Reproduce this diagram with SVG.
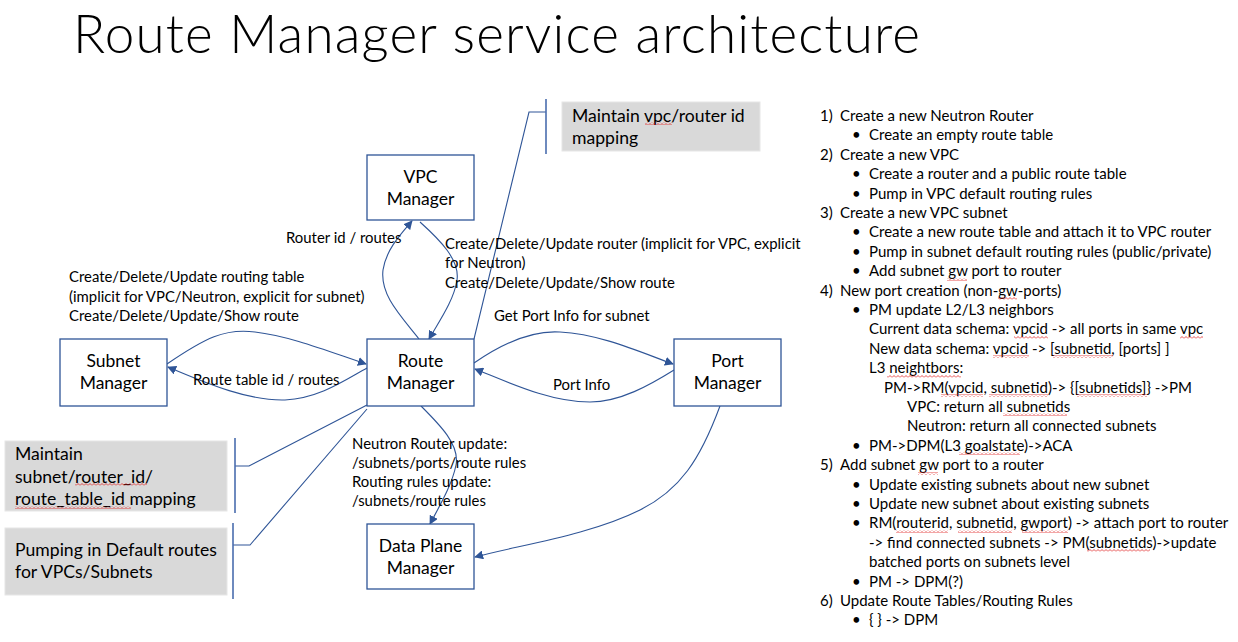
<svg xmlns="http://www.w3.org/2000/svg" width="1238" height="642" viewBox="0 0 1238 642">
<defs>
<marker id="arr" viewBox="0 0 10 10" refX="9" refY="5" markerWidth="9" markerHeight="9" markerUnits="userSpaceOnUse" orient="auto">
<path d="M0,0 L10,5 L0,10 Z" fill="#2F5597"/>
</marker>
<pattern id="wave" patternUnits="userSpaceOnUse" width="4" height="3">
<path d="M0,2.5 L2,0.5 L4,2.5" fill="none" stroke="#E02020" stroke-width="0.8"/>
</pattern>
<style>
text{font-family:Lato,"Liberation Sans",Arial,sans-serif;fill:#000;}
.title{font-size:53px;font-weight:300;}
.box{fill:#fff;stroke:#2F5597;stroke-width:1.3;}
.bt{font-size:17.5px;text-anchor:middle;}
.gray{fill:#D9D9D9;stroke:#E6E6E6;stroke-width:1;}
.gt{font-size:17.6px;}
.lbl{font-size:14.9px;}
.li{font-size:15px;}
.con{fill:none;stroke:#2F5597;stroke-width:1.1;}
.conA{fill:none;stroke:#2F5597;stroke-width:1.1;marker-end:url(#arr);}
.brk{fill:none;stroke:#4A6DAE;stroke-width:1.6;}
.sq{fill:url(#wave);}
</style>
</defs>
<rect width="1238" height="642" fill="#fff"/>
<text class="title" x="73" y="53" textLength="847">Route Manager service architecture</text>

<g id="connectors">
<path class="conA" d="M167,364 C205,338 225,328 255,332 C290,336 330,352 366,364"/>
<path class="conA" d="M367,368 C345,380 320,398 285,400 C250,401 210,385 168,367"/>
<path class="conA" d="M474,363 C500,345 530,330 560,332 C600,334 640,352 673,364"/>
<path class="conA" d="M674,370 C650,385 620,402 590,402 C550,402 510,383 475,369"/>
<path class="conA" d="M419,339 C400,315 380,295 383,270 C386,250 400,235 412,221"/>
<path class="conA" d="M420,222 C440,240 460,260 457,280 C454,300 440,320 429,339"/>
<path class="conA" d="M421,406 C440,425 460,445 456,465 C452,485 440,505 430,524"/>
<path class="conA" d="M720,406 C700,460 680,490 640,510 C590,535 520,545 475,557"/>
<path class="con" d="M546,112 H529 L474,339"/>
<path class="con" d="M235,466 H249 L367,405"/>
<path class="con" d="M233,545 H250 L367,409"/>
<path class="brk" d="M546,99 V154"/>
<path class="brk" d="M235,438 V513"/>
<path class="brk" d="M233,523 V599"/>
</g>

<g id="vpc-manager">
<rect class="box" x="367" y="155" width="107" height="65"/>
<text class="bt" x="420.5" y="183">VPC</text>
<text class="bt" x="420.5" y="205">Manager</text>
</g>
<g id="subnet-manager">
<rect class="box" x="60" y="339" width="107" height="67"/>
<text class="bt" x="113.5" y="367">Subnet</text>
<text class="bt" x="113.5" y="389">Manager</text>
</g>
<g id="route-manager">
<rect class="box" x="367" y="339" width="107" height="67"/>
<text class="bt" x="420.5" y="367">Route</text>
<text class="bt" x="420.5" y="389">Manager</text>
</g>
<g id="port-manager">
<rect class="box" x="674" y="339" width="107" height="67"/>
<text class="bt" x="727.5" y="367">Port</text>
<text class="bt" x="727.5" y="389">Manager</text>
</g>
<g id="data-plane-manager">
<rect class="box" x="367" y="524" width="107" height="65"/>
<text class="bt" x="420.5" y="552">Data Plane</text>
<text class="bt" x="420.5" y="574">Manager</text>
</g>

<g id="note-vpc-router">
<rect class="gray" x="562" y="102" width="198" height="49"/>
<text class="gt" x="572" y="122">Maintain vpc/router id</text>
<text class="gt" x="572" y="144">mapping</text>
<rect class="sq" x="645" y="122" width="27" height="3"/>
</g>
<g id="note-subnet-mapping">
<rect class="gray" x="5" y="441" width="222" height="70"/>
<text class="gt" x="15" y="460">Maintain</text>
<text class="gt" x="15" y="483">subnet/router_id/</text>
<text class="gt" x="15" y="505">route_table_id mapping</text>
<rect class="sq" x="75" y="483" width="72" height="3"/>
<rect class="sq" x="15" y="506" width="116" height="3"/>
</g>
<g id="note-default-routes">
<rect class="gray" x="5" y="528" width="222" height="67"/>
<text class="gt" x="15" y="556">Pumping in Default routes</text>
<text class="gt" x="15" y="578">for VPCs/Subnets</text>
</g>

<g id="labels">
<text class="lbl" x="286" y="243">Router id / routes</text>
<text class="lbl" x="445" y="249">Create/Delete/Update router (implicit for VPC, explicit</text>
<text class="lbl" x="445" y="268">for Neutron)</text>
<text class="lbl" x="445" y="288">Create/Delete/Update/Show route</text>
<text class="lbl" x="69" y="282">Create/Delete/Update routing table</text>
<text class="lbl" x="69" y="302">(implicit for VPC/Neutron, explicit for subnet)</text>
<text class="lbl" x="69" y="321">Create/Delete/Update/Show route</text>
<text class="lbl" x="193" y="385">Route table id / routes</text>
<text class="lbl" x="494" y="321">Get Port Info for subnet</text>
<text class="lbl" x="553" y="390">Port Info</text>
<text class="lbl" x="352" y="449">Neutron Router update:</text>
<text class="lbl" x="352" y="468">/subnets/ports/route rules</text>
<text class="lbl" x="352" y="487">Routing rules update:</text>
<text class="lbl" x="352" y="506">/subnets/route rules</text>
</g>

<g id="steps">
<text class="li" x="820" y="121">1)</text><text class="li" x="840" y="121">Create a new Neutron Router</text>
<text class="li" x="852" y="140.4">•</text><text class="li" x="869" y="140.4">Create an empty route table</text>
<text class="li" x="820" y="159.8">2)</text><text class="li" x="840" y="159.8">Create a new VPC</text>
<text class="li" x="852" y="179.2">•</text><text class="li" x="869" y="179.2">Create a router and a public route table</text>
<text class="li" x="852" y="198.6">•</text><text class="li" x="869" y="198.6">Pump in VPC default routing rules</text>
<text class="li" x="820" y="218">3)</text><text class="li" x="840" y="218">Create a new VPC subnet</text>
<text class="li" x="852" y="237.4">•</text><text class="li" x="869" y="237.4">Create a new route table and attach it to VPC router</text>
<text class="li" x="852" y="256.8">•</text><text class="li" x="869" y="256.8">Pump in subnet default routing rules (public/private)</text>
<text class="li" x="852" y="276.2">•</text><text class="li" x="869" y="276.2">Add subnet gw port to router</text>
<text class="li" x="820" y="295.6">4)</text><text class="li" x="840" y="295.6">New port creation (non-gw-ports)</text>
<text class="li" x="852" y="315">•</text><text class="li" x="869" y="315">PM update L2/L3 neighbors</text>
<text class="li" x="869" y="334.4">Current data schema: vpcid -&gt; all ports in same vpc</text>
<text class="li" x="869" y="353.8">New data schema: vpcid -&gt; [subnetid, [ports] ]</text>
<text class="li" x="869" y="373.2">L3 neightbors:</text>
<text class="li" x="884" y="392.6">PM-&gt;RM(vpcid, subnetid)-&gt; {[subnetids]} -&gt;PM</text>
<text class="li" x="907" y="412">VPC: return all subnetids</text>
<text class="li" x="907" y="431.4">Neutron: return all connected subnets</text>
<text class="li" x="852" y="450.8">•</text><text class="li" x="869" y="450.8">PM-&gt;DPM(L3 goalstate)-&gt;ACA</text>
<text class="li" x="820" y="470.2">5)</text><text class="li" x="840" y="470.2">Add subnet gw port to a router</text>
<text class="li" x="852" y="489.6">•</text><text class="li" x="869" y="489.6">Update existing subnets about new subnet</text>
<text class="li" x="852" y="509">•</text><text class="li" x="869" y="509">Update new subnet about existing subnets</text>
<text class="li" x="852" y="528.4">•</text><text class="li" x="869" y="528.4">RM(routerid, subnetid, gwport) -&gt; attach port to router</text>
<text class="li" x="869" y="547.8">-&gt; find connected subnets -&gt; PM(subnetids)-&gt;update</text>
<text class="li" x="869" y="567.2">batched ports on subnets level</text>
<text class="li" x="852" y="586.6">•</text><text class="li" x="869" y="586.6">PM -&gt; DPM(?)</text>
<text class="li" x="820" y="606">6)</text><text class="li" x="840" y="606">Update Route Tables/Routing Rules</text>
<text class="li" x="852" y="625.4">•</text><text class="li" x="869" y="625.4">{ } -&gt; DPM</text>
</g>
<g id="spellcheck-marks">
<rect class="sq" x="947" y="278" width="20" height="3"/>
<rect class="sq" x="998" y="297" width="19" height="3"/>
<rect class="sq" x="1014" y="336" width="34" height="3"/>
<rect class="sq" x="1180" y="336" width="23" height="3"/>
<rect class="sq" x="993" y="355" width="36" height="3"/>
<rect class="sq" x="1053" y="355" width="60" height="3"/>
<rect class="sq" x="887" y="375" width="74" height="3"/>
<rect class="sq" x="941" y="394" width="42" height="3"/>
<rect class="sq" x="989" y="394" width="59" height="3"/>
<rect class="sq" x="1077" y="394" width="70" height="3"/>
<rect class="sq" x="1003" y="413" width="64" height="3"/>
<rect class="sq" x="959" y="452" width="61" height="3"/>
<rect class="sq" x="918" y="472" width="20" height="3"/>
<rect class="sq" x="896" y="530" width="52" height="3"/>
<rect class="sq" x="958" y="530" width="54" height="3"/>
<rect class="sq" x="1022" y="530" width="46" height="3"/>
<rect class="sq" x="1087" y="549" width="63" height="3"/>
</g>
</svg>
